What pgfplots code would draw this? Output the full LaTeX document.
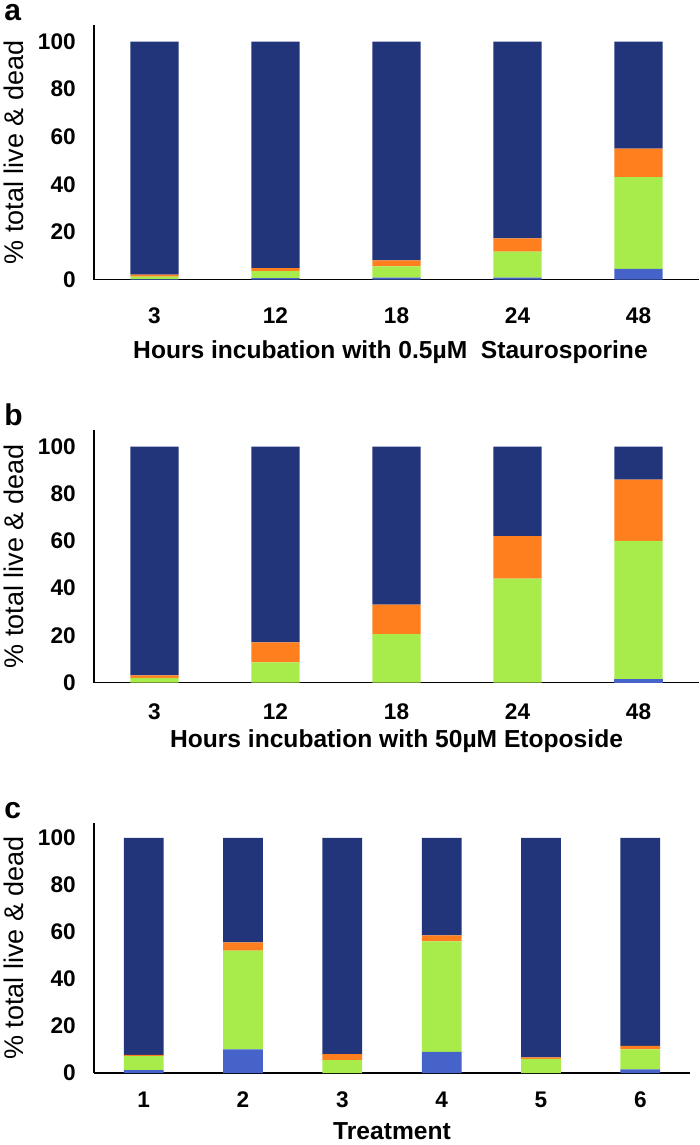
\documentclass[border=0pt]{standalone}
\usepackage{pgfplots}
\pgfplotsset{compat=1.18}
\usepackage{fontspec}
\setmainfont{Liberation Sans}
\definecolor{cnavy}{HTML}{22347A}
\definecolor{corange}{HTML}{FF7F1E}
\definecolor{cgreen}{HTML}{A8EC4C}
\definecolor{cblue}{HTML}{4563C8}
\pgfplotsset{
  mystack/.style={
    ybar stacked, bar width=0.4, scale only axis,
    ymin=0, ymax=107,
    axis x line=bottom, axis y line=left,
    axis line style={-, line width=0.8pt},
    ytick={0,20,...,100}, ytick style={draw=none},
    xtick=data, xtick style={draw=none},
    /pgf/number format/assume math mode=true,
    tick label style={font=\fontsize{11.3}{13}\selectfont\bfseries},
    yticklabel style={xshift=-3.5pt},
    ylabel={\% total live \& dead},
    ylabel style={font=\fontsize{13.5}{15}\selectfont, anchor=center},
    xlabel style={font=\fontsize{12.3}{14}\selectfont\bfseries, anchor=north},
    every axis plot/.append style={draw=none},
  }
}
\begin{document}
\begin{tikzpicture}
\useasboundingbox (0,0) rectangle (350pt,-572.5pt);
% ---------- panel a
\node[anchor=base west, inner sep=0pt, font=\fontsize{15}{17}\selectfont\bfseries] at (2pt,-10.5pt) {a};
\begin{axis}[mystack, at={(47pt,-139.75pt)}, anchor=south west,
  width=302.5pt, height=127.25pt,
  xmin=-0.5, xmax=4.5,
  xticklabels={3,12,18,24,48},
  minor xtick={0.5,1.5,2.5,3.5},
  minor tick length=3pt, xtick align=outside,
  minor x tick style={line width=0.8pt, black},
  xticklabel style={yshift=-6.5pt},
  ylabel style={at={(axis description cs:-0.132,0.5)}},
  xlabel={Hours incubation with 0.5µM\ \ Staurosporine},
  xlabel style={at={(axis description cs:0.49,0)}, yshift=-27pt},
]
\addplot[fill=cblue] coordinates {(0,0.2) (1,0.6) (2,0.8) (3,0.8) (4,4.5)};
\addplot[fill=cgreen] coordinates {(0,1.0) (1,2.9) (2,4.7) (3,10.9) (4,38.5)};
\addplot[fill=corange] coordinates {(0,0.8) (1,1.3) (2,2.5) (3,5.6) (4,12)};
\addplot[fill=cnavy] coordinates {(0,98.0) (1,95.2) (2,92.0) (3,82.7) (4,45)};
\end{axis}
% ---------- panel b
\node[anchor=base west, inner sep=0pt, font=\fontsize{15}{17}\selectfont\bfseries] at (2pt,-212.5pt) {b};
\begin{axis}[mystack, at={(47pt,-341.25pt)}, anchor=south west,
  width=302.5pt, height=126.25pt,
  xmin=-0.5, xmax=4.5,
  xticklabels={3,12,18,24,48},
  xticklabel style={yshift=-5pt},
  ylabel style={at={(axis description cs:-0.132,0.5)}},
  xlabel={Hours incubation with 50µM Etoposide},
  xlabel style={at={(axis description cs:0.5,0)}, yshift=-20pt},
]
\addplot[fill=cblue] coordinates {(0,0) (1,0) (2,0) (3,0) (4,1.5)};
\addplot[fill=cgreen] coordinates {(0,2.0) (1,8.5) (2,20.5) (3,44) (4,58.5)};
\addplot[fill=corange] coordinates {(0,1.0) (1,8.5) (2,12.5) (3,18) (4,26)};
\addplot[fill=cnavy] coordinates {(0,97) (1,83) (2,67) (3,38) (4,14)};
\end{axis}
% ---------- panel c
\node[anchor=base west, inner sep=0pt, font=\fontsize{15}{17}\selectfont\bfseries] at (2pt,-409pt) {c};
\begin{axis}[mystack, at={(47pt,-536.5pt)}, anchor=south west,
  width=298pt, height=125.25pt,
  xmin=0.5, xmax=6.5, ymax=106.5,
  xticklabels={1,2,3,4,5,6},
  xticklabel style={yshift=-3.8pt},
  ylabel style={at={(axis description cs:-0.134,0.5)}},
  xlabel={Treatment},
  xlabel style={at={(axis description cs:0.5,0)}, inner sep=0pt, yshift=-24.5pt},
]
\addplot[fill=cblue] coordinates {(1,1.2) (2,10) (3,0) (4,9) (5,0) (6,1.5)};
\addplot[fill=cgreen] coordinates {(1,6) (2,42) (3,5.5) (4,47) (5,6) (6,8.5)};
\addplot[fill=corange] coordinates {(1,0.5) (2,3.5) (3,2.5) (4,2.5) (5,0.7) (6,1.5)};
\addplot[fill=cnavy] coordinates {(1,92.3) (2,44.5) (3,92) (4,41.5) (5,93.3) (6,88.5)};
\end{axis}
\end{tikzpicture}
\end{document}
